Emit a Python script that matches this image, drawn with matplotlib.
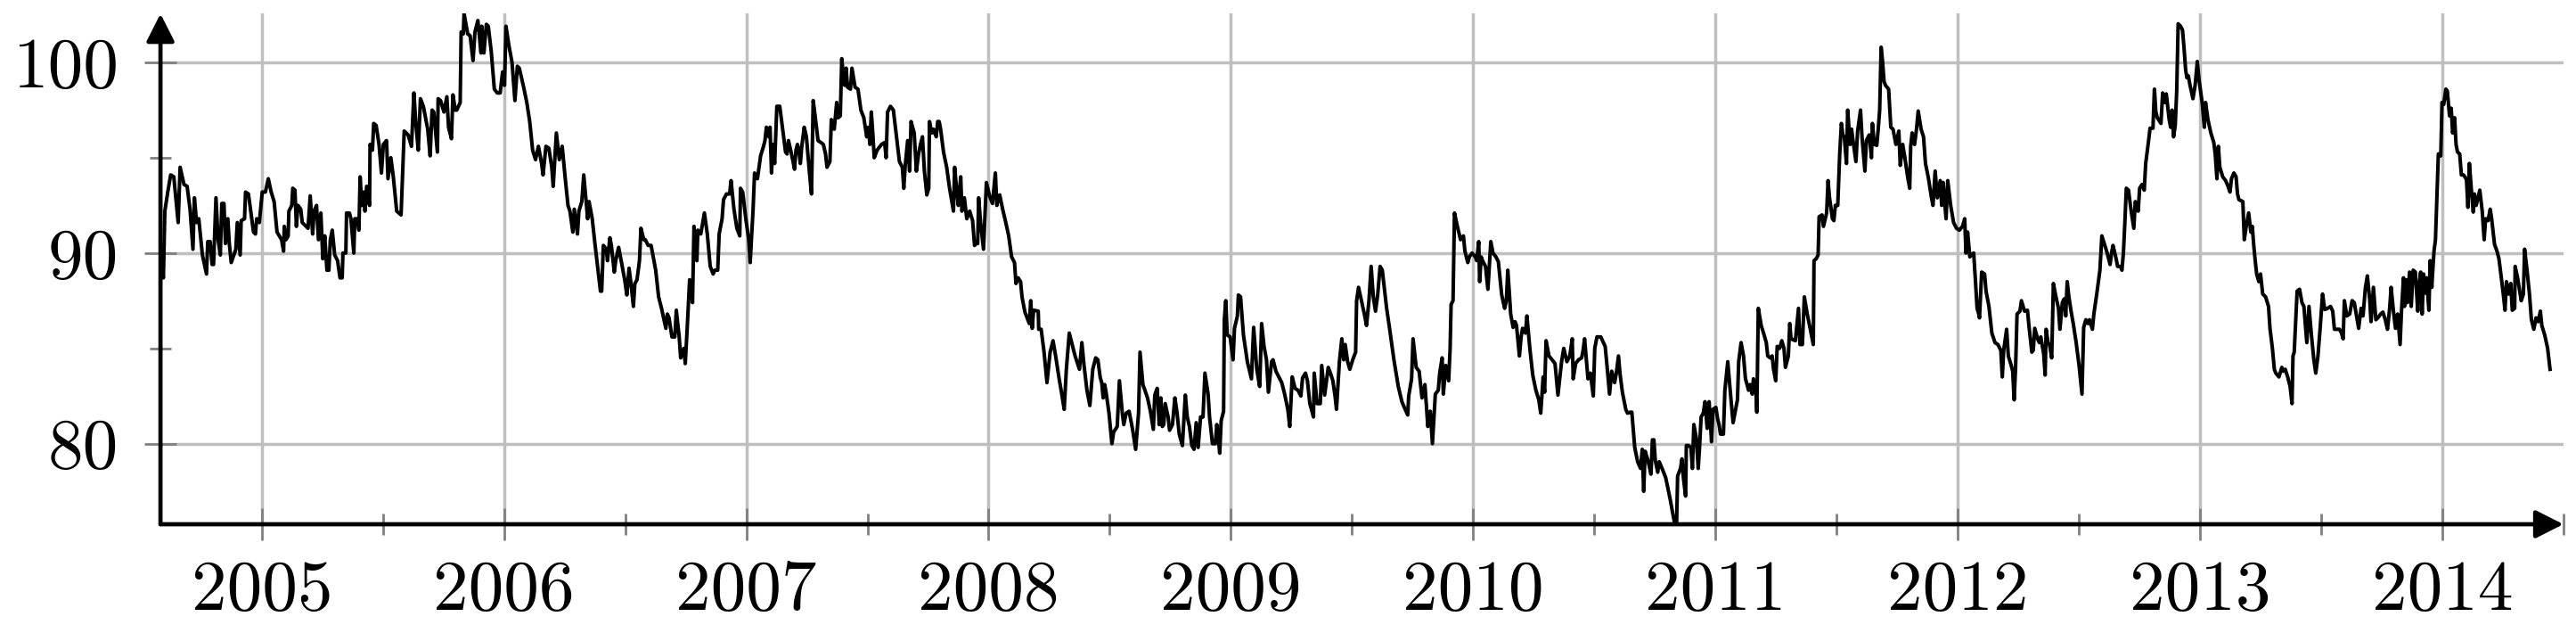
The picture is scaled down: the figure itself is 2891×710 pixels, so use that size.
import matplotlib
matplotlib.use("Agg")
import matplotlib.pyplot as plt
import numpy as np

# weekly index readings, split into chunks of roughly 1.7 years each
dates_a = [2004.582, 2004.594, 2004.600, 2004.612, 2004.624, 2004.637, 2004.655, 2004.663, 2004.679, 2004.692,
           2004.704, 2004.716, 2004.722, 2004.731, 2004.740, 2004.755, 2004.772, 2004.777, 2004.787, 2004.795,
           2004.801, 2004.811, 2004.820, 2004.829, 2004.835, 2004.844, 2004.850, 2004.860, 2004.866, 2004.874,
           2004.893, 2004.899, 2004.911, 2004.915, 2004.929, 2004.933, 2004.945, 2004.966, 2004.974, 2004.979,
           2004.990, 2005.002, 2005.015, 2005.027, 2005.039, 2005.051, 2005.063, 2005.082, 2005.090, 2005.093,
           2005.100, 2005.109, 2005.112, 2005.124, 2005.128, 2005.137, 2005.143, 2005.149, 2005.161, 2005.167,
           2005.191, 2005.200, 2005.210, 2005.216, 2005.226, 2005.234, 2005.244, 2005.252, 2005.260, 2005.269,
           2005.277, 2005.283, 2005.291, 2005.301, 2005.313, 2005.323, 2005.332, 2005.335, 2005.347, 2005.350,
           2005.362, 2005.368, 2005.380, 2005.384, 2005.395, 2005.401, 2005.406, 2005.413, 2005.421, 2005.426,
           2005.433, 2005.445, 2005.447, 2005.457, 2005.462, 2005.472, 2005.484, 2005.494, 2005.502, 2005.515,
           2005.521, 2005.533, 2005.543, 2005.557, 2005.575, 2005.588, 2005.604, 2005.618, 2005.628, 2005.636,
           2005.646, 2005.655, 2005.667, 2005.685, 2005.695, 2005.703, 2005.710, 2005.725, 2005.728, 2005.738,
           2005.752, 2005.764, 2005.771, 2005.783, 2005.789, 2005.799, 2005.805, 2005.819, 2005.823, 2005.832,
           2005.835, 2005.850, 2005.860, 2005.872, 2005.880, 2005.892, 2005.905, 2005.908, 2005.917, 2005.927,
           2005.935, 2005.947, 2005.960, 2005.972, 2005.984, 2005.994, 2006.002, 2006.008, 2006.020, 2006.033,
           2006.045, 2006.055, 2006.063, 2006.081, 2006.094, 2006.106, 2006.118, 2006.130, 2006.142, 2006.155,
           2006.161, 2006.173, 2006.185, 2006.197, 2006.203, 2006.216, 2006.228, 2006.240, 2006.252, 2006.264]
values_a = [89.9, 88.7, 92.2, 93.2, 94.1, 94.0, 91.6, 94.5, 93.6, 93.5,
            92.3, 90.2, 92.9, 91.6, 91.8, 89.9, 88.9, 90.6, 90.6, 89.4,
            89.4, 92.9, 90.7, 89.9, 92.6, 92.6, 90.5, 91.8, 90.5, 89.5,
            90.2, 91.6, 89.9, 91.7, 91.8, 93.2, 93.1, 91.1, 91.0, 91.8,
            91.6, 93.2, 93.2, 93.9, 93.2, 92.7, 91.1, 90.7, 90.1, 91.4,
            90.7, 90.9, 92.2, 92.5, 93.4, 93.3, 91.4, 92.5, 92.3, 91.6,
            91.3, 93.0, 91.0, 92.2, 92.5, 90.7, 92.1, 89.7, 90.9, 89.1,
            89.1, 90.7, 91.2, 89.9, 89.6, 88.7, 88.7, 90.0, 90.0, 92.1,
            92.1, 91.8, 90.0, 91.8, 91.8, 91.2, 94.0, 92.5, 93.2, 92.2,
            93.5, 92.5, 95.7, 95.4, 96.8, 96.7, 95.7, 94.2, 95.7, 95.9,
            93.9, 95.0, 94.0, 92.2, 92.0, 96.4, 96.2, 95.6, 98.4, 96.8,
            95.4, 98.1, 97.7, 96.5, 95.1, 97.5, 97.4, 95.3, 98.1, 98.0,
            97.4, 98.2, 96.6, 96.0, 98.3, 97.5, 97.5, 97.9, 101.6, 101.5,
            102.57, 101.5, 101.4, 100.1, 101.6, 102.2, 100.5, 101.9, 100.5, 102.0,
            101.9, 100.6, 98.6, 98.4, 98.4, 99.5, 98.8, 101.9, 100.9, 100.0,
            98.0, 99.8, 99.7, 98.7, 97.9, 96.9, 95.4, 94.9, 95.6, 94.7,
            94.1, 95.6, 95.5, 94.5, 93.5, 96.3, 94.9, 95.6, 94.0, 92.5]

dates_b = [2006.272, 2006.284, 2006.290, 2006.303, 2006.309, 2006.321, 2006.329, 2006.339, 2006.345, 2006.351,
           2006.364, 2006.376, 2006.388, 2006.398, 2006.403, 2006.410, 2006.422, 2006.427, 2006.437, 2006.443,
           2006.455, 2006.461, 2006.473, 2006.485, 2006.498, 2006.507, 2006.516, 2006.524, 2006.534, 2006.540,
           2006.549, 2006.559, 2006.565, 2006.577, 2006.583, 2006.595, 2006.607, 2006.626, 2006.638, 2006.650,
           2006.662, 2006.668, 2006.674, 2006.681, 2006.693, 2006.705, 2006.711, 2006.723, 2006.729, 2006.742,
           2006.748, 2006.756, 2006.766, 2006.778, 2006.784, 2006.796, 2006.800, 2006.812, 2006.827, 2006.839,
           2006.851, 2006.863, 2006.870, 2006.882, 2006.888, 2006.900, 2006.906, 2006.918, 2006.931, 2006.937,
           2006.949, 2006.961, 2006.973, 2006.976, 2006.985, 2006.998, 2007.010, 2007.016, 2007.028, 2007.034,
           2007.046, 2007.059, 2007.071, 2007.077, 2007.083, 2007.093, 2007.098, 2007.104, 2007.110, 2007.117,
           2007.126, 2007.138, 2007.154, 2007.162, 2007.168, 2007.174, 2007.183, 2007.193, 2007.199, 2007.205,
           2007.211, 2007.217, 2007.223, 2007.229, 2007.239, 2007.248, 2007.260, 2007.269, 2007.276, 2007.284,
           2007.296, 2007.308, 2007.318, 2007.327, 2007.333, 2007.345, 2007.351, 2007.363, 2007.373, 2007.379,
           2007.388, 2007.394, 2007.400, 2007.406, 2007.412, 2007.418, 2007.430, 2007.436, 2007.449, 2007.461,
           2007.473, 2007.485, 2007.497, 2007.504, 2007.510, 2007.516, 2007.522, 2007.528, 2007.540, 2007.558,
           2007.571, 2007.577, 2007.583, 2007.595, 2007.607, 2007.620, 2007.632, 2007.644, 2007.650, 2007.656,
           2007.666, 2007.674, 2007.680, 2007.693, 2007.702, 2007.711, 2007.719, 2007.727, 2007.735, 2007.745,
           2007.753, 2007.756, 2007.766, 2007.772, 2007.784, 2007.790, 2007.796, 2007.802, 2007.814, 2007.827,
           2007.839, 2007.855, 2007.860, 2007.869, 2007.875, 2007.885, 2007.890, 2007.900, 2007.910, 2007.922,
           2007.934, 2007.942, 2007.949]
values_b = [92.2, 91.1, 92.3, 91.0, 92.2, 92.7, 94.1, 92.7, 91.8, 92.7,
            91.8, 90.4, 89.1, 88.0, 88.0, 90.4, 90.2, 89.6, 90.8, 90.4,
            89.0, 89.6, 90.3, 89.5, 88.6, 87.8, 89.2, 88.4, 87.2, 88.4,
            88.6, 89.6, 91.3, 90.7, 90.7, 90.4, 90.4, 89.1, 87.7, 87.1,
            86.4, 86.05, 86.8, 86.6, 85.6, 85.6, 87.0, 85.6, 84.5, 85.0,
            84.2, 86.05, 88.6, 87.4, 91.4, 89.6, 91.2, 91.0, 92.1, 91.0,
            89.3, 88.9, 89.1, 89.1, 91.0, 91.8, 92.8, 93.1, 93.1, 93.8,
            92.3, 91.3, 90.9, 93.4, 93.2, 91.8, 90.7, 89.5, 92.3, 94.2,
            93.9, 95.1, 95.6, 95.9, 96.6, 96.1, 96.6, 94.2, 95.7, 94.7,
            97.7, 97.7, 96.1, 95.3, 95.2, 95.9, 95.4, 94.8, 94.4, 95.4,
            95.7, 95.4, 94.7, 95.6, 96.6, 96.1, 94.3, 93.1, 98.0, 97.2,
            95.9, 95.8, 95.7, 95.2, 94.5, 94.8, 97.0, 96.5, 97.9, 97.1,
            97.2, 100.2, 99.4, 98.8, 99.7, 98.7, 98.6, 99.7, 98.7, 98.6,
            97.5, 97.1, 96.1, 96.6, 95.7, 97.4, 96.3, 95.0, 95.4, 95.7,
            95.8, 95.0, 97.4, 97.7, 97.5, 96.1, 94.8, 94.5, 93.4, 94.6,
            95.9, 94.3, 96.9, 96.3, 94.3, 95.2, 95.7, 96.1, 94.3, 93.05,
            93.4, 96.9, 96.3, 96.5, 96.1, 96.9, 96.9, 96.5, 95.3, 94.5,
            93.4, 92.2, 94.5, 93.2, 92.5, 94.0, 92.2, 92.9, 91.8, 92.2,
            91.7, 90.4, 90.5]

dates_c = [2007.955, 2007.959, 2007.967, 2007.979, 2007.991, 2008.004, 2008.016, 2008.028, 2008.034, 2008.046,
           2008.058, 2008.071, 2008.083, 2008.095, 2008.107, 2008.113, 2008.122, 2008.132, 2008.138, 2008.150,
           2008.168, 2008.174, 2008.180, 2008.186, 2008.205, 2008.207, 2008.217, 2008.229, 2008.241, 2008.254,
           2008.266, 2008.278, 2008.290, 2008.302, 2008.312, 2008.321, 2008.333, 2008.345, 2008.357, 2008.375,
           2008.385, 2008.394, 2008.406, 2008.418, 2008.430, 2008.442, 2008.451, 2008.461, 2008.467, 2008.473,
           2008.479, 2008.485, 2008.497, 2008.509, 2008.516, 2008.531, 2008.540, 2008.552, 2008.558, 2008.568,
           2008.580, 2008.595, 2008.607, 2008.619, 2008.625, 2008.637, 2008.656, 2008.668, 2008.680, 2008.686,
           2008.696, 2008.704, 2008.711, 2008.717, 2008.723, 2008.729, 2008.741, 2008.747, 2008.759, 2008.769,
           2008.778, 2008.787, 2008.800, 2008.812, 2008.820, 2008.829, 2008.839, 2008.848, 2008.857, 2008.865,
           2008.875, 2008.885, 2008.893, 2008.906, 2008.912, 2008.924, 2008.936, 2008.942, 2008.946, 2008.954,
           2008.960, 2008.970, 2008.973, 2008.979, 2008.985, 2008.997, 2009.009, 2009.015, 2009.027, 2009.031,
           2009.040, 2009.052, 2009.068, 2009.085, 2009.094, 2009.107, 2009.119, 2009.127, 2009.137, 2009.147,
           2009.155, 2009.168, 2009.174, 2009.186, 2009.198, 2009.210, 2009.222, 2009.235, 2009.243, 2009.253,
           2009.265, 2009.277, 2009.289, 2009.296, 2009.308, 2009.316, 2009.326, 2009.341, 2009.344, 2009.356,
           2009.369, 2009.375, 2009.387, 2009.402, 2009.411, 2009.421, 2009.430, 2009.436, 2009.448, 2009.458,
           2009.466, 2009.472, 2009.482, 2009.491, 2009.503, 2009.515, 2009.519, 2009.527, 2009.539, 2009.551,
           2009.560, 2009.570, 2009.579, 2009.588, 2009.597, 2009.606, 2009.616, 2009.625]
values_c = [90.5, 92.9, 91.6, 90.2, 93.7, 93.0, 92.6, 94.2, 92.5, 93.05,
            92.3, 91.6, 90.9, 89.8, 89.5, 88.4, 88.7, 88.5, 87.7, 86.9,
            86.3, 87.5, 86.05, 87.0, 86.95, 86.0, 86.0, 84.8, 83.2, 84.8,
            85.4, 84.5, 83.5, 82.6, 81.8, 83.9, 85.8, 85.2, 84.6, 83.9,
            85.3, 84.1, 82.8, 82.0, 83.9, 84.5, 84.4, 83.45, 83.2, 82.4,
            83.1, 82.7, 81.6, 80.0, 80.6, 80.9, 83.3, 81.6, 81.0, 81.6,
            81.7, 80.7, 79.7, 81.6, 84.8, 83.1, 82.4, 81.7, 80.75, 82.55,
            82.9, 81.0, 82.4, 80.9, 81.0, 82.1, 81.4, 80.7, 81.0, 82.4,
            81.6, 80.5, 79.9, 82.55, 81.4, 80.9, 79.9, 79.7, 81.1, 79.8,
            81.4, 81.4, 83.7, 82.6, 81.4, 80.0, 80.0, 81.0, 80.6, 79.5,
            81.2, 81.7, 86.5, 87.5, 85.7, 85.6, 84.4, 86.05, 86.7, 87.8,
            87.7, 85.7, 84.3, 83.4, 86.1, 83.9, 83.0, 86.3, 85.1, 84.4,
            82.7, 84.3, 84.4, 83.8, 83.5, 83.2, 82.6, 81.8, 80.9, 83.5,
            82.9, 82.8, 82.5, 83.45, 83.7, 83.3, 82.1, 81.4, 83.7, 82.1,
            82.1, 84.1, 82.55, 84.0, 83.7, 83.3, 82.5, 81.8, 84.3, 85.5,
            84.4, 85.2, 84.3, 83.9, 84.4, 84.8, 87.5, 88.2, 87.5, 86.8,
            86.2, 87.5, 89.3, 87.7, 86.95, 87.8, 89.3, 89.1]

dates_d = [2009.643, 2009.655, 2009.673, 2009.691, 2009.706, 2009.716, 2009.730, 2009.734, 2009.746, 2009.752,
           2009.765, 2009.777, 2009.789, 2009.801, 2009.813, 2009.823, 2009.832, 2009.844, 2009.856, 2009.862,
           2009.872, 2009.877, 2009.887, 2009.899, 2009.905, 2009.909, 2009.917, 2009.923, 2009.935, 2009.948,
           2009.960, 2009.966, 2009.978, 2009.984, 2009.996, 2010.009, 2010.015, 2010.023, 2010.027, 2010.033,
           2010.039, 2010.051, 2010.061, 2010.073, 2010.082, 2010.094, 2010.104, 2010.118, 2010.130, 2010.137,
           2010.143, 2010.149, 2010.155, 2010.165, 2010.173, 2010.179, 2010.191, 2010.198, 2010.204, 2010.216,
           2010.222, 2010.234, 2010.246, 2010.259, 2010.271, 2010.279, 2010.289, 2010.295, 2010.301, 2010.313,
           2010.326, 2010.338, 2010.350, 2010.365, 2010.374, 2010.387, 2010.399, 2010.409, 2010.413, 2010.423,
           2010.435, 2010.448, 2010.454, 2010.460, 2010.474, 2010.484, 2010.496, 2010.502, 2010.511, 2010.527,
           2010.545, 2010.551, 2010.563, 2010.572, 2010.584, 2010.591, 2010.600, 2010.606, 2010.616, 2010.630,
           2010.637, 2010.649, 2010.655, 2010.661, 2010.667, 2010.679, 2010.691, 2010.698, 2010.704, 2010.710,
           2010.722, 2010.734, 2010.740, 2010.746, 2010.752, 2010.762, 2010.768, 2010.783, 2010.795, 2010.805,
           2010.813, 2010.823, 2010.832, 2010.840, 2010.844, 2010.856, 2010.862, 2010.868, 2010.877, 2010.880,
           2010.889, 2010.899, 2010.905, 2010.911, 2010.921, 2010.929, 2010.935, 2010.941, 2010.950, 2010.957,
           2010.966, 2010.974, 2010.984, 2010.990, 2011.002, 2011.009, 2011.015, 2011.021, 2011.033, 2011.039,
           2011.051, 2011.063, 2011.073, 2011.082, 2011.091, 2011.096, 2011.106, 2011.116, 2011.124, 2011.137,
           2011.143, 2011.152, 2011.157, 2011.167, 2011.171, 2011.177, 2011.189, 2011.201, 2011.210, 2011.216,
           2011.226, 2011.234, 2011.240, 2011.249, 2011.255, 2011.265, 2011.274, 2011.283, 2011.289, 2011.301,
           2011.307]
values_d = [87.1, 86.05, 84.4, 83.0, 82.2, 81.9, 81.5, 82.5, 83.4, 85.5,
            84.0, 83.8, 82.4, 83.1, 80.9, 81.7, 80.0, 82.6, 82.8, 83.7,
            84.5, 82.6, 84.1, 83.3, 85.0, 87.3, 87.5, 92.1, 91.4, 90.7,
            90.9, 90.1, 89.5, 89.8, 90.0, 89.8, 89.6, 90.6, 88.5, 89.8,
            89.6, 89.3, 88.1, 90.6, 90.0, 89.8, 89.55, 87.8, 87.1, 87.5,
            89.1, 88.0, 86.8, 86.1, 86.4, 86.2, 84.6, 85.6, 86.05, 85.8,
            86.7, 85.0, 83.6, 82.8, 82.3, 81.6, 83.5, 82.7, 85.4, 84.6,
            84.4, 84.2, 82.55, 84.3, 85.0, 84.3, 84.6, 85.5, 83.4, 84.2,
            84.4, 84.5, 84.9, 85.5, 83.4, 83.7, 82.5, 85.0, 85.6, 85.6,
            85.1, 84.3, 82.6, 83.8, 83.2, 83.7, 84.6, 83.7, 82.7, 81.8,
            81.6, 81.65, 81.65, 80.7, 79.8, 79.05, 78.7, 79.7, 77.5, 79.6,
            79.1, 78.4, 80.2, 80.2, 79.1, 78.5, 79.05, 78.6, 78.2, 77.6,
            77.1, 76.4, 75.8, 75.9, 78.3, 78.7, 79.2, 78.2, 77.25, 79.9,
            79.9, 79.8, 78.7, 81.0, 80.3, 78.7, 79.9, 81.4, 81.6, 82.2,
            80.8, 82.2, 80.1, 81.8, 81.9, 81.3, 81.0, 80.5, 80.5, 82.8,
            84.3, 82.5, 81.1, 81.7, 82.3, 84.3, 85.3, 84.6, 83.4, 82.8,
            83.1, 82.6, 83.4, 82.8, 81.65, 87.1, 86.2, 85.7, 85.3, 84.6,
            84.5, 84.6, 83.9, 83.3, 85.1, 85.0, 85.4, 85.0, 84.0, 84.6,
            86.3]

dates_e = [2011.312, 2011.330, 2011.343, 2011.349, 2011.359, 2011.367, 2011.379, 2011.391, 2011.404, 2011.407,
           2011.416, 2011.424, 2011.428, 2011.440, 2011.446, 2011.459, 2011.465, 2011.471, 2011.483, 2011.489,
           2011.495, 2011.505, 2011.513, 2011.520, 2011.526, 2011.532, 2011.541, 2011.546, 2011.556, 2011.562,
           2011.568, 2011.580, 2011.587, 2011.599, 2011.605, 2011.617, 2011.623, 2011.635, 2011.644, 2011.648,
           2011.656, 2011.666, 2011.672, 2011.678, 2011.684, 2011.690, 2011.696, 2011.702, 2011.715, 2011.724,
           2011.733, 2011.745, 2011.757, 2011.763, 2011.773, 2011.782, 2011.794, 2011.802, 2011.806, 2011.812,
           2011.822, 2011.830, 2011.837, 2011.849, 2011.859, 2011.867, 2011.879, 2011.891, 2011.898, 2011.907,
           2011.916, 2011.928, 2011.934, 2011.940, 2011.952, 2011.959, 2011.971, 2011.983, 2011.995, 2012.007,
           2012.020, 2012.029, 2012.034, 2012.041, 2012.050, 2012.056, 2012.066, 2012.074, 2012.080, 2012.087,
           2012.090, 2012.099, 2012.111, 2012.117, 2012.129, 2012.141, 2012.154, 2012.166, 2012.178, 2012.184,
           2012.190, 2012.202, 2012.209, 2012.221, 2012.227, 2012.233, 2012.239, 2012.245, 2012.257, 2012.263,
           2012.276, 2012.288, 2012.294, 2012.306, 2012.312, 2012.318, 2012.330, 2012.337, 2012.343, 2012.355,
           2012.361, 2012.365, 2012.373, 2012.379, 2012.388, 2012.395, 2012.404, 2012.416, 2012.422, 2012.432,
           2012.440, 2012.446, 2012.452, 2012.459, 2012.468, 2012.477, 2012.489, 2012.501, 2012.513, 2012.520,
           2012.529, 2012.538, 2012.544, 2012.556, 2012.562, 2012.574, 2012.587, 2012.595, 2012.605, 2012.617,
           2012.629, 2012.635, 2012.641, 2012.654, 2012.660, 2012.672, 2012.678, 2012.684, 2012.690, 2012.696,
           2012.705, 2012.715, 2012.727, 2012.733, 2012.739, 2012.745, 2012.751, 2012.761, 2012.770, 2012.776,
           2012.788, 2012.794, 2012.806, 2012.812, 2012.818, 2012.824, 2012.839, 2012.846, 2012.855, 2012.861,
           2012.873, 2012.879, 2012.885, 2012.891, 2012.898, 2012.904, 2012.910, 2012.920, 2012.928, 2012.934,
           2012.941, 2012.946, 2012.952, 2012.959, 2012.971, 2012.980, 2012.989]
values_e = [85.5, 85.4, 87.1, 85.2, 85.2, 87.7, 86.8, 86.05, 85.2, 89.6,
            89.7, 89.9, 91.9, 92.0, 91.4, 92.1, 93.8, 92.9, 91.8, 91.7,
            92.5, 92.5, 95.2, 96.8, 96.2, 96.1, 94.7, 97.5, 95.7, 96.5,
            95.9, 94.8, 96.4, 97.5, 96.1, 94.3, 95.9, 96.2, 95.0, 96.8,
            95.7, 95.65, 96.5, 97.5, 100.8, 100.05, 99.0, 98.8, 98.6, 96.6,
            96.5, 95.7, 96.4, 94.6, 95.7, 95.0, 93.95, 93.4, 95.6, 96.3,
            95.7, 96.5, 97.45, 96.5, 96.1, 94.7, 93.95, 92.96, 92.5, 94.3,
            92.9, 93.8, 92.5, 93.7, 91.8, 93.8, 92.5, 91.6, 91.3, 91.2,
            91.4, 91.8, 90.0, 91.1, 89.8, 89.9, 90.0, 88.4, 87.1, 86.8,
            86.6, 89.0, 88.9, 88.0, 87.2, 85.8, 85.3, 85.2, 84.9, 83.5,
            84.9, 86.0, 84.6, 84.1, 83.8, 82.3, 84.0, 86.8, 86.95, 87.5,
            86.95, 87.0, 86.2, 84.8, 84.9, 86.05, 85.5, 85.3, 85.6, 84.7,
            83.6, 86.0, 85.3, 85.2, 84.5, 88.4, 87.8, 87.1, 86.0, 87.4,
            87.6, 86.7, 88.5, 87.7, 86.95, 86.3, 85.3, 84.1, 82.6, 86.1,
            86.5, 86.3, 86.5, 86.0, 86.8, 87.85, 89.1, 90.9, 90.5, 90.0,
            89.4, 90.0, 90.4, 89.7, 89.3, 89.3, 89.1, 90.0, 91.6, 93.4,
            93.3, 92.3, 91.3, 92.7, 92.5, 92.2, 93.4, 93.6, 93.3, 94.7,
            95.9, 96.55, 96.55, 98.6, 97.4, 97.1, 96.8, 98.4, 97.9, 98.35,
            97.0, 96.6, 97.5, 96.1, 96.7, 98.5, 102.03, 101.9, 101.7, 100.8,
            99.6, 99.2, 99.3, 98.8, 98.1, 98.8, 100.05]

dates_f = [2012.996, 2013.009, 2013.018, 2013.023, 2013.033, 2013.045, 2013.057, 2013.063, 2013.070, 2013.076,
           2013.082, 2013.094, 2013.106, 2013.116, 2013.124, 2013.130, 2013.140, 2013.149, 2013.155, 2013.161,
           2013.177, 2013.183, 2013.191, 2013.201, 2013.210, 2013.216, 2013.222, 2013.228, 2013.234, 2013.243,
           2013.250, 2013.259, 2013.271, 2013.283, 2013.289, 2013.299, 2013.307, 2013.313, 2013.326, 2013.338,
           2013.344, 2013.352, 2013.362, 2013.372, 2013.380, 2013.384, 2013.389, 2013.393, 2013.401, 2013.411,
           2013.421, 2013.429, 2013.439, 2013.441, 2013.450, 2013.460, 2013.470, 2013.478, 2013.487, 2013.496,
           2013.506, 2013.515, 2013.527, 2013.539, 2013.548, 2013.555, 2013.563, 2013.576, 2013.584, 2013.591,
           2013.596, 2013.606, 2013.618, 2013.628, 2013.637, 2013.645, 2013.655, 2013.665, 2013.673, 2013.683,
           2013.691, 2013.701, 2013.706, 2013.716, 2013.726, 2013.734, 2013.746, 2013.755, 2013.765, 2013.774,
           2013.783, 2013.789, 2013.799, 2013.807, 2013.816, 2013.826, 2013.832, 2013.840, 2013.844, 2013.850,
           2013.856, 2013.865, 2013.872, 2013.880, 2013.889, 2013.899, 2013.905, 2013.911, 2013.917, 2013.923,
           2013.929, 2013.935, 2013.945, 2013.950, 2013.957, 2013.960, 2013.966, 2013.972, 2013.978, 2013.984,
           2013.994, 2013.999, 2014.006, 2014.015, 2014.021, 2014.030, 2014.037, 2014.043, 2014.051, 2014.057,
           2014.063, 2014.072, 2014.079, 2014.088, 2014.100, 2014.106, 2014.112, 2014.121, 2014.128, 2014.133,
           2014.140, 2014.149, 2014.155, 2014.165, 2014.173, 2014.179, 2014.189, 2014.198, 2014.204, 2014.210,
           2014.216, 2014.226, 2014.234, 2014.240, 2014.252, 2014.259, 2014.265, 2014.274, 2014.283, 2014.289,
           2014.299, 2014.301, 2014.311, 2014.316, 2014.326, 2014.335, 2014.340, 2014.350, 2014.360, 2014.368,
           2014.378, 2014.387, 2014.396, 2014.405, 2014.411, 2014.423, 2014.435, 2014.445]
values_f = [99.1, 97.9, 96.6, 97.9, 97.0, 96.3, 95.8, 95.2, 93.9, 95.6,
            94.5, 94.0, 93.8, 93.5, 93.2, 93.9, 94.2, 94.0, 93.1, 92.8,
            92.7, 90.7, 91.4, 92.1, 91.1, 91.4, 90.4, 89.6, 88.9, 88.5,
            88.9, 87.85, 87.7, 87.2, 86.05, 85.0, 83.9, 83.7, 83.5, 84.0,
            83.8, 83.9, 83.5, 83.0, 82.1, 84.6, 84.8, 85.9, 88.0, 88.1,
            87.4, 87.2, 85.6, 85.3, 87.2, 85.7, 84.4, 83.7, 84.6, 86.05,
            87.85, 87.04, 87.1, 87.2, 86.95, 86.0, 86.0, 86.0, 85.8, 85.5,
            87.5, 86.7, 86.8, 87.5, 87.4, 86.8, 86.05, 87.1, 86.7, 88.2,
            88.8, 87.5, 86.4, 88.2, 86.5, 86.6, 86.8, 86.9, 86.5, 86.0,
            87.1, 88.2, 86.9, 86.05, 86.8, 85.2, 87.0, 88.7, 87.2, 88.6,
            87.4, 89.0, 87.2, 89.1, 89.0, 86.95, 88.4, 89.0, 86.8, 88.9,
            87.9, 88.7, 87.0, 89.6, 88.2, 88.9, 90.1, 90.7, 92.96, 95.2,
            95.1, 97.9, 97.8, 98.6, 98.5, 97.2, 97.6, 96.3, 97.1, 95.7,
            95.3, 95.2, 94.1, 94.1, 93.86, 92.4, 94.7, 93.2, 92.15, 93.1,
            92.5, 92.96, 93.3, 92.2, 90.7, 91.8, 91.7, 92.3, 91.8, 91.1,
            90.45, 90.1, 89.7, 89.1, 87.85, 87.0, 88.5, 87.85, 88.4, 87.0,
            87.1, 89.3, 88.7, 88.3, 87.5, 87.85, 90.2, 89.1, 87.85, 86.5,
            86.0, 86.6, 86.4, 86.95, 86.2, 85.7, 85.0, 83.9]

year_ticks = [2005, 2006, 2007, 2008, 2009, 2010, 2011, 2012, 2013, 2014]
value_ticks = [80, 90, 100]


def main():
    dates = np.concatenate([dates_a, dates_b, dates_c, dates_d, dates_e, dates_f])
    values = np.concatenate([values_a, values_b, values_c, values_d, values_e, values_f])

    fig = plt.figure(figsize=(28.91, 7.10), dpi=100)
    ax = fig.add_axes([0.0623, 0.1718, 0.9328, 0.8066])

    ax.plot(dates, values, color="black", lw=2.9, zorder=3)

    ax.set_xlim(2004.582, 2014.445)
    ax.set_ylim(75.77, 102.56)

    ax.set_xticks(year_ticks)
    ax.set_xticks([y + 0.5 for y in year_ticks], minor=True)
    ax.set_yticks(value_ticks)
    ax.set_yticks([85, 95], minor=True)
    ax.set_xticklabels([str(y) for y in year_ticks], family="cmr10", fontsize=57)
    ax.set_yticklabels([str(v) for v in value_ticks], family="cmr10", fontsize=57)

    ax.tick_params(which="major", direction="inout", length=26, width=2, color="#808080")
    ax.tick_params(which="minor", direction="inout", length=17, width=2, color="#808080")
    ax.tick_params(axis="x", which="major", pad=16)
    ax.tick_params(axis="y", which="major", pad=21)
    ax.grid(True, which="major", color="#bfbfbf", lw=2.5, zorder=0)

    for s in ax.spines.values():
        s.set_visible(False)

    # axis lines with arrow heads, pgfplots style
    arrow = dict(arrowstyle="-|>,head_length=0.95,head_width=0.48", lw=3.4, color="black",
                 mutation_scale=20, shrinkA=0, shrinkB=0)
    ax.annotate("", xy=(1.0, 0), xytext=(0, 0), xycoords="axes fraction",
                arrowprops=arrow, annotation_clip=False)
    ax.annotate("", xy=(0, 1.0), xytext=(0, 0), xycoords="axes fraction",
                arrowprops=arrow, annotation_clip=False)

    fig.savefig("out.png", dpi=100)


if __name__ == "__main__":
    main()
